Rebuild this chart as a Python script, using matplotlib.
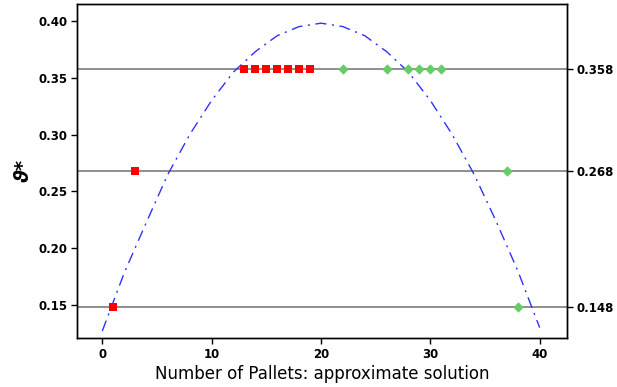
import matplotlib
matplotlib.use("Agg")
import matplotlib.pyplot as plt

# curve (dash-dot blue)
curve_x = [0, 2, 4, 6, 8, 10, 12, 14, 16, 18, 20, 22, 24, 26, 28, 30, 32, 34, 36, 38, 40]
curve_y = [0.127, 0.178, 0.222, 0.265, 0.300, 0.330, 0.355, 0.373, 0.387, 0.395, 0.398,
           0.395, 0.387, 0.373, 0.355, 0.330, 0.300, 0.265, 0.224, 0.180, 0.130]

# levels shown on the right axis
levels = [0.358, 0.268, 0.148]
level_labels = ["0.358", "0.268", "0.148"]

# red squares and green diamonds on each level
red_x = [13, 14, 15, 16, 17, 18, 19, 3, 1]
red_y = [0.358] * 7 + [0.268, 0.148]
green_x = [22, 26, 28, 29, 30, 31, 37, 38]
green_y = [0.358] * 6 + [0.268, 0.148]

x_ticks = [0, 10, 20, 30, 40]
y_ticks = [0.15, 0.20, 0.25, 0.30, 0.35, 0.40]

fig = plt.figure(figsize=(6.17, 3.87), dpi=100)
ax = fig.add_axes([0.125, 0.127, 0.794, 0.863])

for lv in levels:
    ax.axhline(lv, color="#707070", lw=1.1, zorder=1)

ax.plot(curve_x, curve_y, color="#3030ff", lw=1.0, ls=(0, (8, 4, 1.5, 4)), zorder=2)
ax.scatter(red_x, red_y, marker="s", s=40, color="#ff0000", zorder=3, linewidths=0)
ax.scatter(green_x, green_y, marker="D", s=28, color="#66cc66", zorder=3, linewidths=0)

ax.set_xlim(-2.3, 42.5)
ax.set_ylim(0.121, 0.415)
ax.set_xticks(x_ticks)
ax.set_yticks(y_ticks)
ax.set_yticklabels(["%.2f" % v for v in y_ticks])
ax.tick_params(direction="out", length=4, width=1, labelsize=8.5, pad=3)
for lab in ax.get_xticklabels() + ax.get_yticklabels():
    lab.set_fontweight("bold")

ax2 = ax.twinx()
ax2.set_ylim(ax.get_ylim())
ax2.set_yticks(levels)
ax2.set_yticklabels(level_labels)
ax2.tick_params(direction="out", length=4, width=1, labelsize=8.5, pad=3)
for lab in ax2.get_yticklabels():
    lab.set_fontweight("bold")

for a in (ax, ax2):
    for sp in a.spines.values():
        sp.set_linewidth(1.0)

ax.set_xlabel("Number of Pallets: approximate solution", fontsize=12, labelpad=3)
ax.set_ylabel("ϑ*", fontsize=14, fontweight="bold", style="italic", labelpad=4)

fig.savefig("out.png", dpi=100)
